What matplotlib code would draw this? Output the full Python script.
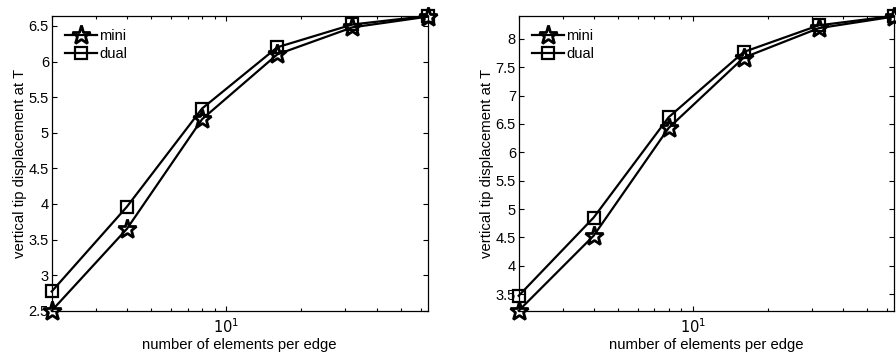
import numpy as np
import matplotlib
matplotlib.use('agg')
import matplotlib.pyplot as plt
from matplotlib.ticker import LogLocator, NullFormatter

plt.rcParams['font.family'] = ['Liberation Sans', 'DejaVu Sans']

# number of elements per edge
n_elem = [2, 4, 8, 16, 32, 64]

# left panel
mini_left = [2.50, 3.65, 5.19, 6.10, 6.48, 6.63]
dual_left = [2.77, 3.96, 5.34, 6.20, 6.52, 6.64]
yticks_left = [2.5, 3, 3.5, 4, 4.5, 5, 5.5, 6, 6.5]
yticklabels_left = ['2.5', '3', '3.5', '4', '4.5', '5', '5.5', '6', '6.5']

# right panel
mini_right = [3.206, 4.53, 6.43, 7.67, 8.19, 8.394]
dual_right = [3.47, 4.85, 6.62, 7.77, 8.24, 8.406]
yticks_right = [3.5, 4, 4.5, 5, 5.5, 6, 6.5, 7, 7.5, 8]
yticklabels_right = ['3.5', '4', '4.5', '5', '5.5', '6', '6.5', '7', '7.5', '8']

fig = plt.figure(figsize=(8.96, 3.56), dpi=100)
ax1 = fig.add_axes([0.0577, 0.1272, 0.4196, 0.828])
ax2 = fig.add_axes([0.5789, 0.1272, 0.4185, 0.828])

panels = [(ax1, mini_left, dual_left, yticks_left, yticklabels_left),
          (ax2, mini_right, dual_right, yticks_right, yticklabels_right)]

for ax, mini, dual, yt, ytl in panels:
    ax.plot(n_elem, mini, color='black', lw=1.6, marker='*', ms=14,
            mfc='none', mec='black', mew=2.0, label='mini', clip_on=False)
    ax.plot(n_elem, dual, color='black', lw=1.6, marker='s', ms=8.5,
            mfc='none', mec='black', mew=1.6, label='dual', clip_on=False)
    ax.set_xscale('log')
    ax.set_xlim(n_elem[0], n_elem[-1])
    ax.set_ylim(min(min(mini), min(dual)), max(max(mini), max(dual)))
    ax.set_xticks([10])
    ax.set_xticklabels(['$10^1$'])
    ax.xaxis.set_minor_locator(LogLocator(base=10, subs=np.arange(2, 10)))
    ax.xaxis.set_minor_formatter(NullFormatter())
    ax.set_yticks(yt)
    ax.set_yticklabels(ytl)
    ax.tick_params(which='both', direction='in', top=True, right=True,
                   labelsize=10.5, width=0.8)
    ax.tick_params(axis='y', pad=2)
    ax.tick_params(axis='x', pad=5)
    ax.tick_params(which='major', length=3.5)
    ax.tick_params(which='minor', length=2.2)
    for sp in ax.spines.values():
        sp.set_linewidth(0.9)
    ax.set_xlabel('number of elements per edge', fontsize=10.7, labelpad=1)
    ax.set_ylabel('vertical tip displacement at T', fontsize=10.7, labelpad=1)
    ax.legend(loc='upper left', frameon=False, fontsize=10.5, handlelength=2.2,
              handletextpad=0.15, labelspacing=0.25, borderaxespad=0.5)

plt.savefig('out.png', dpi=100)
